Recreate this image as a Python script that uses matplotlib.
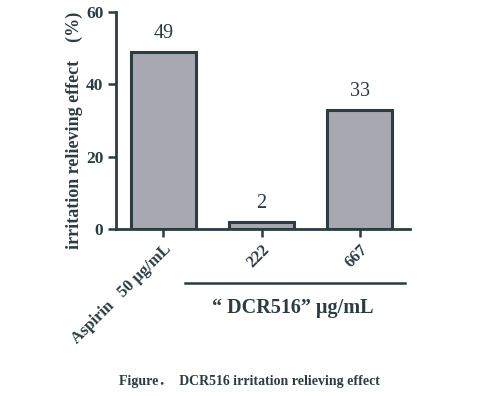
import matplotlib.pyplot as plt

# Data
categories = ['Aspirin   50 µg/mL', '222', '667']
values = [49, 2, 33]
yticks = [0, 20, 40, 60]

ink = '#2b3d42'
fill = '#a8a8b2'
serif = ['Liberation Serif', 'DejaVu Serif']

fig = plt.figure(figsize=(5.01, 3.96), dpi=100)
ax = fig.add_axes([0.2315, 0.4217, 0.587, 0.548])

x = list(range(len(values)))
ax.bar(x, values, width=0.66, color=fill, edgecolor=ink, linewidth=2.2)

for xi, v in zip(x, values):
    ax.text(xi, v + 2.3, str(v), ha='center', va='bottom', fontsize=14.5,
            family=serif, color=ink)

ax.set_xlim(-0.48, 2.51)
ax.set_ylim(0, 60)
ax.set_yticks(yticks)
ax.set_xticks(x)
ax.set_xticklabels(categories, rotation=45, ha='right', rotation_mode='anchor',
                   fontsize=12, fontweight='bold', family=serif, color=ink)
for lab in ax.get_yticklabels():
    lab.set_fontsize(12.5)
    lab.set_fontweight('bold')
    lab.set_family(serif)
    lab.set_color(ink)

for s in ['top', 'right']:
    ax.spines[s].set_visible(False)
for s in ['left', 'bottom']:
    ax.spines[s].set_linewidth(2)
    ax.spines[s].set_color(ink)
ax.tick_params(axis='both', colors=ink, width=1.8, length=6, pad=3)

# y label
fig.text(0.148, 0.67, 'irritation relieving effect    (%)', rotation=90,
         ha='center', va='center', fontsize=13, fontweight='bold',
         family=serif, color=ink)

# group bracket under DCR516 doses
fig.add_artist(plt.Line2D([185 / 501, 405 / 501], [1 - 283 / 396, 1 - 283 / 396],
                          color=ink, linewidth=1.8))
fig.text(293 / 501, 1 - 308 / 396, '\u201c DCR516\u201d µg/mL', ha='center',
         va='center', fontsize=14.5, fontweight='bold', family=serif, color=ink)

# caption
fig.text(249 / 501, 1 - 381 / 396, 'Figure\uff0e  DCR516 irritation relieving effect',
         ha='center', va='center', fontsize=10, fontweight='bold',
         family=serif + ['Noto Sans CJK SC'], color=ink)

fig.savefig('out.png', dpi=100)
